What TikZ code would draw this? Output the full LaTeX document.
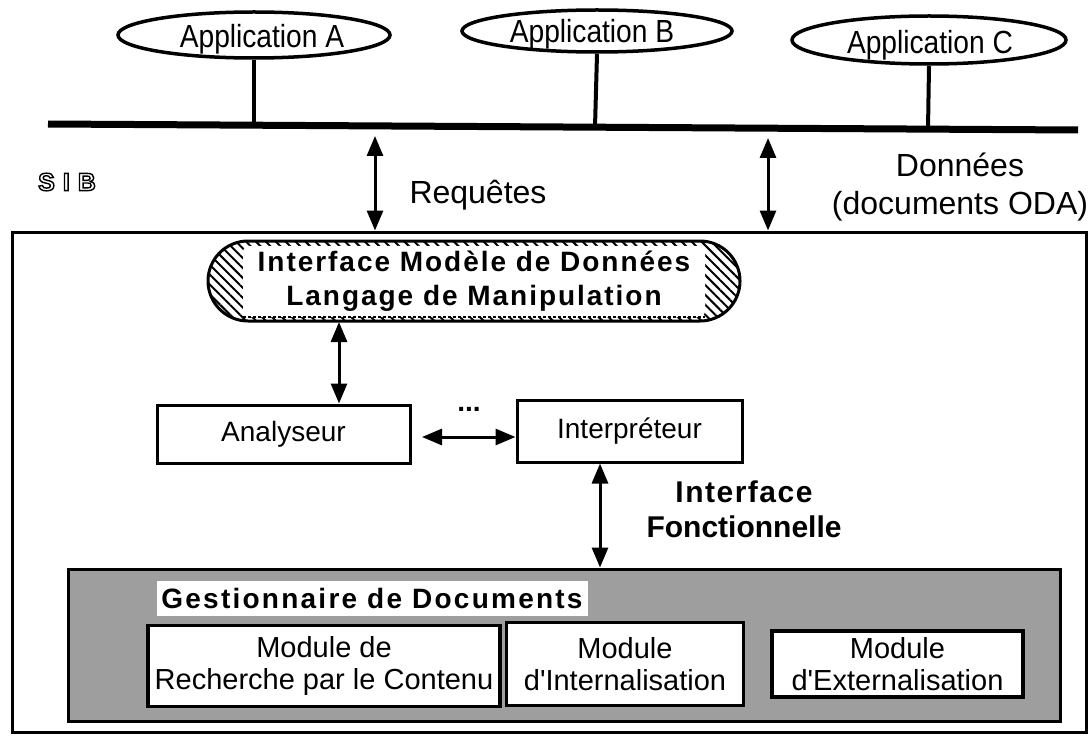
\documentclass[tikz,border=0pt]{standalone}
\usepackage{fontspec}
\setmainfont{Liberation Sans}
\usetikzlibrary{arrows.meta,patterns.meta,shapes.geometric}

\newcommand{\fsz}[1]{\fontsize{#1}{#1}\selectfont}
\newcommand{\apos}{\textquotesingle}
% stroked (hollow) glyphs
\newcommand{\hollow}[1]{\special{pdf:literal direct 1 Tr 1.4 w}#1\special{pdf:literal direct 0 Tr 0.4 w}}

\tikzset{
  x=1pt, y=-1pt,
  app/.style={draw, line width=3.5pt, ellipse, inner sep=0pt},
  apptext/.style={font=\fsz{32}, inner sep=0pt},
  bus/.style={line width=7pt},
  stem/.style={line width=4pt},
  dblarrow/.style={line width=3pt, {Triangle[width=16pt,length=20pt]}-{Triangle[width=16pt,length=20pt]}},
  box/.style={draw, line width=3pt, fill=white, inner sep=0pt, font=\fsz{28}},
  modbox/.style={draw, line width=3.5pt, fill=white, inner sep=0pt, align=center, font=\fsz{29}},
  lbl/.style={font=\fsz{32}, align=center, inner sep=0pt},
}

\begin{document}
\begin{tikzpicture}
\useasboundingbox (0,0) rectangle (1091,738);

% applications on the bus
\node[app, minimum width=272pt, minimum height=46pt] (appA) at (254,35) {};
\node[app, minimum width=270pt, minimum height=42pt] (appB) at (597,31) {};
\node[app, minimum width=274pt, minimum height=48pt] (appC) at (929,40) {};
\node[apptext] (tA) at (262,39) {\scalebox{0.88}[1]{Application A}};
\node[apptext] (tB) at (592,34) {\scalebox{0.88}[1]{Application B}};
\node[apptext] (tC) at (930,45) {\scalebox{0.88}[1]{Application C}};

\coordinate (busL) at (48,124);
\coordinate (busR) at (1078,130);
\draw[bus] (busL) -- (busR);
\coordinate (sA) at (254,125.3);
\coordinate (sB) at (595,127.3);
\coordinate (sC) at (928,129.3);
\draw[stem] (appA.south) -- (sA);
\draw[stem] (appB.south) -- (sB);
\draw[stem] (appC.south) -- (sC);

% SIB label, outlined letters
\node[font=\fsz{25}\bfseries, inner sep=0pt] (sib) at (67,182)
  {\hollow{S\hspace{8pt}I\hspace{8pt}B}};

% system box
\node[draw, line width=3pt, minimum width=1074pt, minimum height=500pt, inner sep=0pt] (sys) at (549,482) {};

% exchanges with the bus
\coordinate (rqTop) at (375,136);
\coordinate (dnTop) at (768,138);
\draw[dblarrow] (rqTop) -- (rqTop |- sys.north);
\draw[dblarrow] (dnTop) -- (dnTop |- sys.north);
\node[lbl] (req) at (478,195) {Requêtes};
\node[lbl, text depth=0pt] (don) at (960,184) {Données\\[6pt](documents ODA)};

% data model interface
\node[draw, line width=3pt, rounded corners=40pt, minimum width=532pt, minimum height=80pt,
      pattern={Lines[angle=-45,distance=7pt,line width=2pt]}] (imd) at (474,281) {};
\fill[white, rounded corners=6pt] ([shift={(36,6)}]imd.north west) rectangle ([shift={(-36,-5)}]imd.south east);
\draw[line width=1.2pt, dash pattern=on 3pt off 2pt] ([shift={(36,-5)}]imd.south west) -- ([shift={(-36,-5)}]imd.south east);
\node[align=center, inner sep=0pt, font=\fsz{28}\bfseries\addfontfeature{LetterSpace=7}] (imdT) at (imd.center)
  {Interface Modèle de Données\\[6pt]Langage de Manipulation};

% analyser and interpreter
\node[box, minimum width=253pt, minimum height=58pt] (ana) at (283.5,434) {Analyseur};
\node[box, minimum width=225pt, minimum height=62pt] (int) at (629.5,431) {Interpréteur};
\draw[dblarrow] (imd.south -| 339,0) -- (ana.north -| 339,0);
\coordinate (anaR) at (422,437);
\draw[dblarrow] (anaR) -- (anaR -| int.west);
\node[font=\fsz{28}\bfseries, inner sep=0pt] (dots) at (469,409) {...};

% functional interface
\node[font=\fsz{30}\bfseries, align=center, inner sep=0pt] (fi) at (744,509)
  {{\addfontfeature{LetterSpace=5}Interface}\\[5pt]Fonctionnelle};

% document manager
\node[draw, line width=3pt, fill=black!38, minimum width=992pt, minimum height=152pt, inner sep=0pt] (gest) at (564,645) {};
\draw[dblarrow] (int.south -| 600,0) -- (gest.north -| 600,0);
\node[fill=white, minimum width=431pt, minimum height=35pt, inner sep=0pt,
      font=\fsz{28}\bfseries\addfontfeature{LetterSpace=8}] (gestT) at (372,598) {Gestionnaire de Documents};
\node[modbox, minimum width=352pt, minimum height=81pt] (m1) at (324,666) {Module de\\[3pt]Recherche par le Contenu};
\node[modbox, minimum width=237pt, minimum height=83pt] (m2) at (625,664) {Module\\[3pt]d\apos Internalisation};
\node[modbox, minimum width=251pt, minimum height=66pt] (m3) at (897.5,664) {Module\\[3pt]d\apos Externalisation};
\end{tikzpicture}
\end{document}
